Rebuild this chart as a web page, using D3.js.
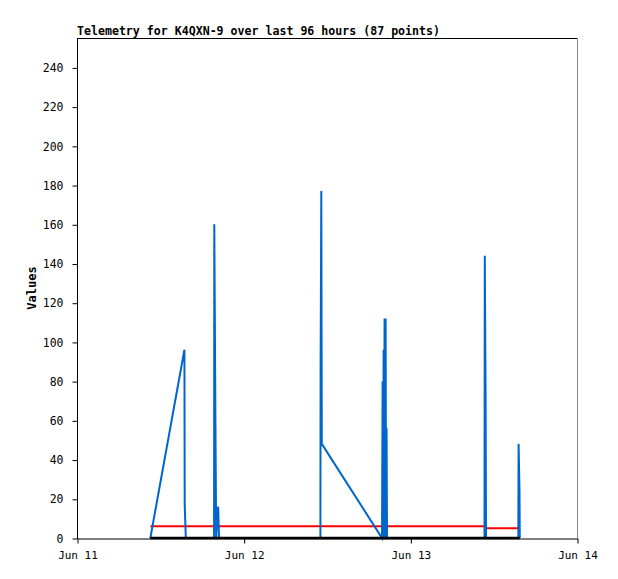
<!DOCTYPE html>
<html>
<head>
<meta charset="utf-8">
<script src="https://cdn.jsdelivr.net/npm/d3@7"></script>
<style>
html,body{margin:0;padding:0;background:#fff;}
svg{display:block;}
</style>
</head>
<body>
<svg id="chart" width="618" height="579"></svg>
<script>
// ---- data (hours after Jun 11 00:00) ----
const titleText = "Telemetry for K4QXN-9 over last 96 hours (87 points)";
const yLabel = "Values";
const xTickDates = ["2024-06-11", "2024-06-12", "2024-06-13", "2024-06-14"];
const yTicks = [0, 20, 40, 60, 80, 100, 120, 140, 160, 180, 200, 220, 240];

const blueHours = [10.56, 15.47, 15.51, 15.67, 19.74, 19.77, 19.94, 20.04, 20.16, 20.33, 20.45,
  35.05, 35.08, 35.18, 35.25, 43.92, 44.01, 44.08, 44.15, 44.21, 44.29, 44.37, 44.44,
  44.51, 44.58, 44.64, 58.68, 58.72, 58.84, 58.90, 63.55, 63.59, 63.72, 63.76];
const blueValues = [0, 96, 17, 0, 0, 160, 56, 0, 8, 16, 0,
  0, 88, 177, 48, 0, 80, 0, 96, 0, 112, 0, 112,
  0, 56, 0, 0, 144, 72, 0, 0, 48, 24, 0];

const redHours = [10.56, 15.5, 19.8, 35.1, 44.1, 58.7, 58.75, 63.76];
const redValues = [6, 6, 6, 6, 6, 6, 5, 5];

const blackHours = [10.56, 63.76];
const blackValues = [0, 0];

(function () {
// ---- layout ----
const mLeft = 77, mRight = 577, mTop = 38, mBottom = 538;
const t0 = new Date(2024, 5, 11, 0, 0, 0);
const toDate = h => new Date(t0.getTime() + h * 3600 * 1000);

const x = d3.scaleTime()
  .domain([new Date(2024, 5, 11), new Date(2024, 5, 14)])
  .range([mLeft, mRight]);
const y = d3.scaleLinear().domain([0, 255]).range([mBottom, mTop]);

const svg = d3.select("#chart");
const mono = "'DejaVu Sans Mono', 'Liberation Mono', monospace";

// frame
svg.append("line").attr("x1", mLeft).attr("x2", mRight).attr("y1", mTop + 0.5).attr("y2", mTop + 0.5)
  .attr("stroke", "#000").attr("stroke-width", 1);
svg.append("line").attr("x1", mRight + 0.5).attr("x2", mRight + 0.5).attr("y1", mTop).attr("y2", mBottom)
  .attr("stroke", "#888").attr("stroke-width", 1);

// y axis
const yAxis = d3.axisLeft(y).tickValues(yTicks).tickSize(5).tickPadding(9).tickSizeOuter(0);
const gy = svg.append("g").attr("transform", `translate(${mLeft + 0.5},0.5)`).call(yAxis);
gy.select(".domain").remove();
svg.append("line").attr("x1", mLeft + 0.5).attr("x2", mLeft + 0.5).attr("y1", mTop).attr("y2", mBottom + 1)
  .attr("stroke", "#000");
gy.selectAll("text").attr("font-family", mono).attr("font-size", "11.5px").attr("fill", "#000");
gy.selectAll("line").attr("stroke", "#000");

// x axis
const xAxis = d3.axisBottom(x)
  .tickValues(xTickDates.map(s => { const p = s.split("-"); return new Date(+p[0], +p[1] - 1, +p[2]); }))
  .tickFormat(d => d3.timeFormat("%b ")(d) + d.getDate())
  .tickSize(5).tickPadding(8).tickSizeOuter(0);
const gx = svg.append("g").attr("transform", `translate(0.5,${mBottom + 0.5})`).call(xAxis);
gx.select(".domain").attr("stroke", "#000");
gx.selectAll("text").attr("font-family", mono).attr("font-size", "11px").attr("fill", "#000");
gx.selectAll("line").attr("stroke", "#000");

// series
const lineGen = d3.line().x(d => x(toDate(d[0]))).y(d => y(d[1]));
const zip = (a, b) => a.map((v, i) => [v, b[i]]);

svg.append("path").datum(zip(redHours, redValues)).attr("d", lineGen)
  .attr("fill", "none").attr("stroke", "#ff0000").attr("stroke-width", 2);
svg.append("path").datum(zip(blueHours, blueValues)).attr("d", lineGen)
  .attr("fill", "none").attr("stroke", "#0066cc").attr("stroke-width", 2)
  .attr("stroke-linejoin", "miter");
svg.append("path").datum(zip(blackHours, blackValues)).attr("d", lineGen)
  .attr("fill", "none").attr("stroke", "#000").attr("stroke-width", 2.5);

// title
svg.append("text").attr("x", mLeft).attr("y", 35)
  .attr("font-family", mono).attr("font-weight", "bold").attr("font-size", "11.8px")
  .attr("textLength", 363).attr("lengthAdjust", "spacingAndGlyphs")
  .attr("fill", "#000").text(titleText);

// y label
svg.append("text").attr("transform", `translate(36,${(mTop + mBottom) / 2}) rotate(-90)`)
  .attr("text-anchor", "middle")
  .attr("font-family", mono).attr("font-weight", "bold").attr("font-size", "12px")
  .attr("fill", "#000").text(yLabel);
})();
</script>
</body>
</html>
